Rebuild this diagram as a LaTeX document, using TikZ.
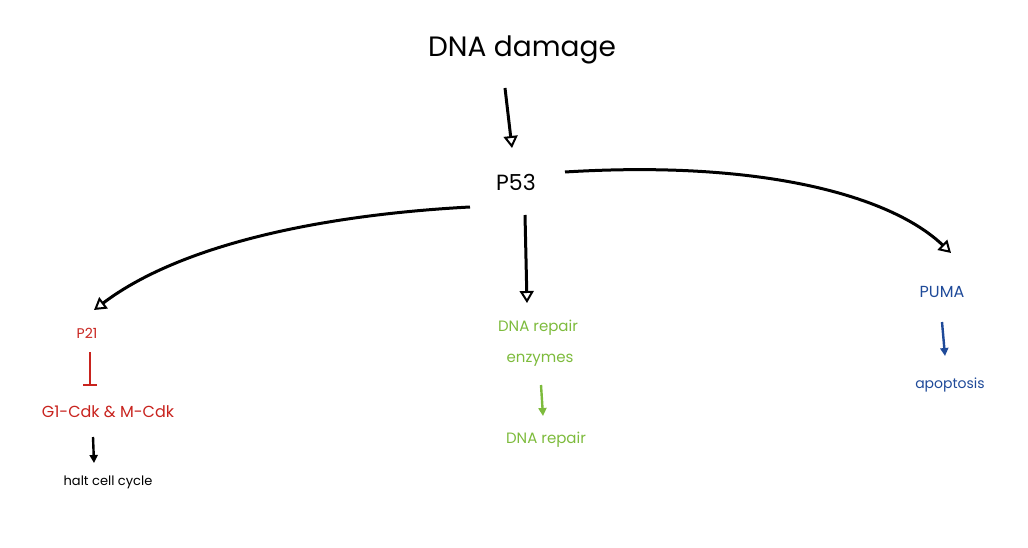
\documentclass[tikz,border=0pt]{standalone}
\usepackage{fontspec}
\setmainfont{Poppins}
\usetikzlibrary{arrows.meta}
\definecolor{pred}{HTML}{C8231E}
\definecolor{pgreen}{HTML}{7DBB3C}
\definecolor{pblue}{HTML}{1F4A99}
\begin{document}
\begin{tikzpicture}[x=1pt,y=-1pt,
  lbl/.style={inner sep=1pt, font=\fontsize{14}{16}\selectfont},
  conn/.style={line width=3pt, -{Triangle[open,length=12pt,width=14pt,line width=2pt]}},
  sconn/.style={line width=2.4pt, -{Triangle[length=8pt,width=8pt]}},
  inhib/.style={line width=2.4pt, -{Bar[width=14pt,line width=2.2pt]}}]
\useasboundingbox (0,0) rectangle (1028,548);
\node[inner sep=1pt, font=\fontsize{28}{30}\selectfont] (dna) at (522,50) {DNA damage};
\node[inner sep=2pt, font=\fontsize{22}{24}\selectfont] (p53) at (516,182) {P53};
\node[lbl, text=pred] (p21) at (87,333) {P21};
\node[lbl, text=pred, font=\fontsize{16}{18}\selectfont] (cdk) at (108,412) {G1-Cdk \& M-Cdk};
\node[lbl, font=\fontsize{13}{15}\selectfont] (halt) at (108,482) {halt cell cycle};
\node[lbl, text=pgreen, font=\fontsize{15}{17}\selectfont] (enz1) at (538,328) {DNA repair};
\node[lbl, text=pgreen, font=\fontsize{15}{17}\selectfont] (enz2) at (540,360) {enzymes};
\node[lbl, text=pgreen, font=\fontsize{15}{17}\selectfont] (rep) at (546,440) {DNA repair};
\node[lbl, text=pblue, font=\fontsize{16}{18}\selectfont] (puma) at (942,292) {PUMA};
\node[lbl, text=pblue] (apo) at (950,385) {apoptosis};
% connector endpoints
\coordinate (a0) at (505,88);   \coordinate (a1) at (512,148);
\coordinate (pr) at (565,172);  \coordinate (r1) at (951,253);
\coordinate (pl) at (470,207);  \coordinate (l1) at (94,310);
\coordinate (c0) at (525,215);  \coordinate (c1) at (527,303);
\coordinate (i0) at (90,352);   \coordinate (i1) at (90,386);
\coordinate (h0) at (93,437);   \coordinate (h1) at (94,463);
\coordinate (g0) at (541,385);  \coordinate (g1) at (543,416);
\coordinate (b0) at (942,322);  \coordinate (b1) at (945,356);
\draw[conn] (a0) -- (a1);
\draw[conn] (pr) .. controls (760,160) and (890,195) .. (r1);
\draw[conn] (pl) .. controls (320,215) and (180,245) .. (l1);
\draw[conn] (c0) -- (c1);
\draw[inhib, pred] (i0) -- (i1);
\draw[sconn] (h0) -- (h1);
\draw[sconn, pgreen] (g0) -- (g1);
\draw[sconn, pblue] (b0) -- (b1);
\end{tikzpicture}
\end{document}
